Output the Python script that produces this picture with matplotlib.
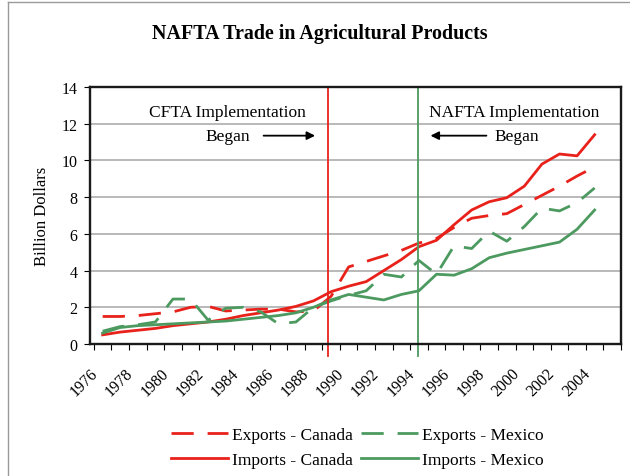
import matplotlib.pyplot as plt
from matplotlib.lines import Line2D

plt.rcParams['font.family'] = ['Liberation Serif', 'DejaVu Serif']

# Data (billion dollars), 1976-2004
years = list(range(1976, 2005))
exports_canada = [1.5, 1.5, 1.55, 1.65, 1.75, 2.0, 2.05, 1.8, 1.85, 1.9,
                  1.9, 1.75, 1.8, 2.6, 4.2, 4.5, 4.8, 5.1, 5.5, 5.75,
                  6.35, 6.85, 7.0, 7.1, 7.6, 8.1, 8.6, 9.15, 9.65]
imports_canada = [0.5, 0.65, 0.75, 0.85, 1.0, 1.1, 1.2, 1.35, 1.55, 1.7,
                  1.85, 2.05, 2.35, 2.85, 3.15, 3.4, 4.0, 4.6, 5.3, 5.65,
                  6.5, 7.3, 7.75, 7.97, 8.6, 9.8, 10.35, 10.25, 11.4]
exports_mexico = [0.7, 0.95, 1.05, 1.2, 2.45, 2.45, 1.3, 1.95, 2.0, 1.75,
                  1.1, 1.2, 2.0, 2.35, 2.65, 2.9, 3.8, 3.65, 4.55, 3.8,
                  5.35, 5.2, 6.15, 5.6, 6.4, 7.4, 7.25, 7.7, 8.5]
imports_mexico = [0.6, 0.9, 1.0, 1.05, 1.1, 1.15, 1.2, 1.25, 1.35, 1.45,
                  1.55, 1.7, 2.0, 2.4, 2.7, 2.55, 2.4, 2.7, 2.9, 3.8,
                  3.75, 4.1, 4.7, 4.95, 5.15, 5.35, 5.55, 6.25, 7.3]

label_years = list(range(1976, 2005, 2))
cfta_line = 1988.85
nafta_line = 1993.95

red = '#e8221b'
green = '#4c9a60'

fig = plt.figure(figsize=(6.3, 4.77), dpi=100)
ax = fig.add_axes([0.1429, 0.2767, 0.8428, 0.5388])

dash = (8, 5)
l1, = ax.plot(years, exports_canada, color=red, lw=2, dashes=dash, label='Exports - Canada')
l2, = ax.plot(years, imports_canada, color=red, lw=2, label='Imports - Canada')
l3, = ax.plot(years, exports_mexico, color=green, lw=2, dashes=dash, label='Exports - Mexico')
l4, = ax.plot(years, imports_mexico, color=green, lw=2, label='Imports - Mexico')

# implementation lines
ax.axvline(cfta_line, ymin=-0.045, ymax=1, color=red, lw=1.3, clip_on=False)
ax.axvline(nafta_line, ymin=-0.045, ymax=1, color=green, lw=1.3, clip_on=False)

ax.set_xlim(1975.5, 2005.5)
ax.set_ylim(0, 14)
ax.set_yticks(range(0, 15, 2))
ax.yaxis.grid(True, color='#a6a6a6', lw=1.1)
ax.set_axisbelow(True)

# labels sit near the left edge of their category (Excel style)
ax.set_xticks([y - 0.5 for y in range(1976, 2007)], minor=True)
ax.set_xticks([y - 0.72 for y in label_years])
ax.set_xticklabels([str(y) for y in label_years], rotation=45, ha='right',
                   rotation_mode='anchor', fontsize=11.5)
ax.tick_params(axis='x', which='major', length=0, pad=15)
ax.tick_params(axis='x', which='minor', length=4, width=0.8, direction='out')
ax.tick_params(axis='y', length=4, width=0.8, labelsize=11.5, pad=5)

for s in ax.spines.values():
    s.set_linewidth(1.7)
    s.set_color('#1a1a1a')

ax.set_ylabel('Billion Dollars', fontsize=12, labelpad=8)

fig.text(0.508, 0.928, 'NAFTA Trade in Agricultural Products', ha='center',
         va='center', fontsize=14.4, fontweight='bold')

# annotations
ax.text(1983.1, 12.66, 'CFTA Implementation', ha='center', va='center', fontsize=12.5)
ax.text(1983.1, 11.35, 'Began', ha='center', va='center', fontsize=12.5)
ax.annotate('', xy=(1988.25, 11.35), xytext=(1985.0, 11.35),
            arrowprops=dict(arrowstyle='-|>', color='black', lw=1.3, mutation_scale=12))
ax.text(1999.4, 12.66, 'NAFTA Implementation', ha='center', va='center', fontsize=12.5)
ax.text(1999.55, 11.35, 'Began', ha='center', va='center', fontsize=12.5)
ax.annotate('', xy=(1994.5, 11.35), xytext=(1998.0, 11.35),
            arrowprops=dict(arrowstyle='-|>', color='black', lw=1.3, mutation_scale=12))

fig.legend([l1, l2, l3, l4],
           ['Exports - Canada', 'Imports - Canada', 'Exports - Mexico', 'Imports - Mexico'],
           ncol=2, frameon=False, loc='center', bbox_to_anchor=(0.567, 0.06),
           fontsize=12.5, handlelength=3.3, handletextpad=0.2, columnspacing=0.5,
           labelspacing=0.55)

# outer border of the picture
fig.add_artist(Line2D([0.012, 0.012], [0, 0.994], color='#9a9a9a', lw=1))
fig.add_artist(Line2D([0.012, 1], [0.994, 0.994], color='#9a9a9a', lw=1))

fig.savefig('out.png', dpi=100)
